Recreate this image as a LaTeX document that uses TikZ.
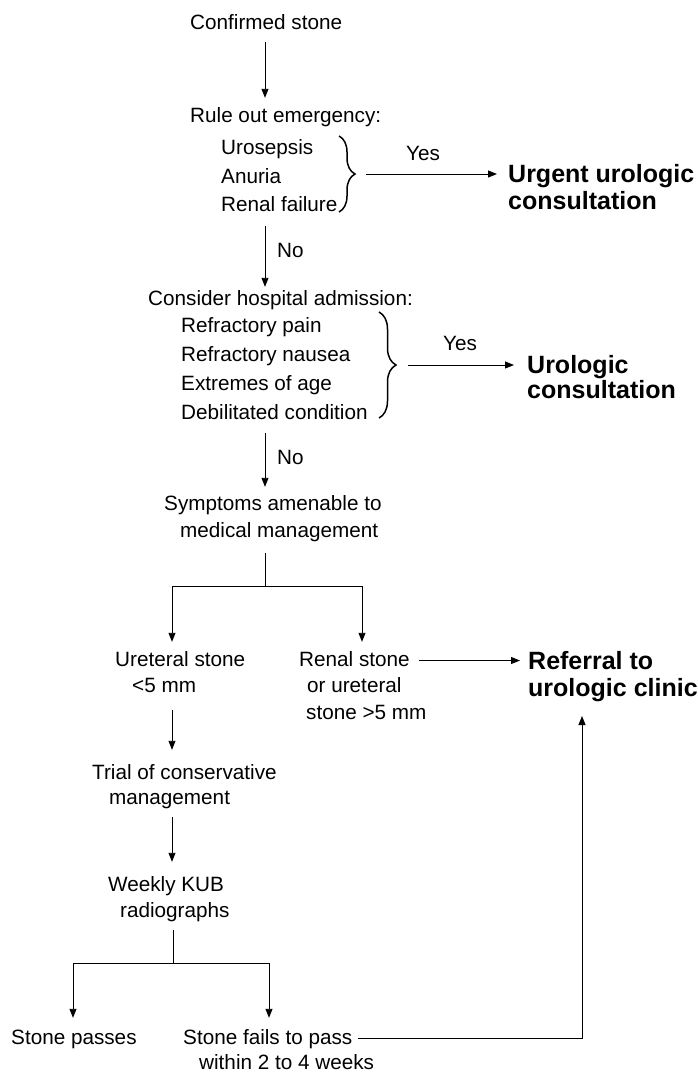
\documentclass[tikz,border=0pt]{standalone}
\usepackage{fontspec}
\setmainfont{Liberation Sans}
\usetikzlibrary{arrows.meta,decorations.pathreplacing}
\begin{document}
\begin{tikzpicture}[x=1pt,y=-1pt,
  txt/.style={font=\fontsize{20.7}{24}\selectfont, inner sep=0pt, text height=15pt, text depth=4pt, anchor=base west},
  btxt/.style={font=\fontsize{25}{28}\selectfont\bfseries, inner sep=0pt, text height=18pt, text depth=5pt, anchor=base west},
  lbl/.style={txt, anchor=base},
  conn/.style={line width=0.9pt},
  arr/.style={conn, -{Triangle[length=9pt,width=7pt]}},
  bracestyle/.style={line width=1.5pt, decorate, decoration={brace, amplitude=#1}},
]
\useasboundingbox (0,0) rectangle (697,1072);
\coordinate (spine) at (265,0);
% block 1
\node[txt] (cs) at (190,29) {Confirmed stone};
\node[txt] (re) at (190,122) {Rule out emergency:};
\node[txt] (u1) at (221,154) {Urosepsis};
\node[txt] (u2) at (221,183) {Anuria};
\node[txt] (u3) at (221,211) {Renal failure};
\draw[bracestyle=16pt] (339,136) -- (339,212);
\coordinate (b1) at (356,174);
\node[btxt] (ur1) at (508,182) {Urgent urologic};
\node[btxt] (ur2) at (508,209) {consultation};
\node[lbl] (y1) at (423,160) {Yes};
\draw[arr, shorten <=9pt, shorten >=9pt] (cs.south -| spine) -- (re.north -| spine);
\draw[arr, shorten <=10pt, shorten >=11pt] (b1) -- (b1 -| ur1.west);
% block 2
\node[txt] (no1) at (277,257) {No};
\node[txt] (ch) at (148,305) {Consider hospital admission:};
\node[txt] (r1) at (181,332) {Refractory pain};
\node[txt] (r2) at (181,361) {Refractory nausea};
\node[txt] (r3) at (181,390) {Extremes of age};
\node[txt] (r4) at (181,419) {Debilitated condition};
\draw[arr, shorten <=11pt, shorten >=3pt] (u3.south -| spine) -- (ch.north -| spine);
\draw[bracestyle=17pt] (379,312) -- (379,418);
\coordinate (b2) at (396,365);
\node[btxt] (uc1) at (527,373) {Urologic};
\node[btxt] (uc2) at (527,398) {consultation};
\node[lbl] (y2) at (460,350) {Yes};
\draw[arr, shorten <=12pt, shorten >=13pt] (b2) -- (b2 -| uc1.west);
% block 3
\node[txt] (no2) at (277,464) {No};
\node[txt] (sy1) at (164,510) {Symptoms amenable to};
\node[txt] (sy2) at (180,537) {medical management};
\draw[arr, shorten <=10pt, shorten >=8pt] (r4.south -| spine) -- (sy1.north -| spine);
\coordinate (j1) at (265,586);
\coordinate (jl) at (172,586);
\coordinate (jr) at (362,586);
\node[txt] (us1) at (115,666) {Ureteral stone};
\node[txt] (us2) at (132,692) {<5 mm};
\node[txt] (rs1) at (299,666) {Renal stone};
\node[txt] (rs2) at (307,692) {or ureteral};
\node[txt] (rs3) at (306,719) {stone >5 mm};
\node[btxt] (rf1) at (528,669) {Referral to};
\node[btxt] (rf2) at (528,696) {urologic clinic};
\draw[conn, shorten <=12pt] (sy2.south -| j1) -- (j1);
\draw[conn] (jl) -- (jr);
\draw[arr, shorten >=9pt] (jl) -- (jl |- us1.north);
\draw[arr, shorten >=9pt] (jr) -- (jr |- rs1.north);
\draw[arr, shorten <=9pt, shorten >=8pt] (rs1.east) -- (rs1.east -| rf1.west);
% block 4
\node[txt] (tr1) at (92,779) {Trial of conservative};
\node[txt] (tr2) at (109,804) {management};
\node[txt] (wk1) at (108,891) {Weekly KUB};
\node[txt] (wk2) at (120,917) {radiographs};
\draw[arr, shorten <=14pt, shorten >=14pt] (us2.south -| jl) -- (tr1.north -| jl);
\draw[arr, shorten <=9pt, shorten >=14pt] (tr2.south -| jl) -- (wk1.north -| jl);
\coordinate (j2) at (173,963);
\coordinate (kl) at (73,963);
\coordinate (kr) at (269,963);
\node[txt] (sp) at (11,1044) {Stone passes};
\node[txt] (sf1) at (183,1044) {Stone fails to pass};
\node[txt] (sf2) at (199,1069) {within 2 to 4 weeks};
\draw[conn, shorten <=9pt] (wk2.south -| j2) -- (j2);
\draw[conn] (kl) -- (kr);
\draw[arr, shorten >=11pt] (kl) -- (kl |- sp.north);
\draw[arr, shorten >=11pt] (kr) -- (kr |- sf1.north);
\coordinate (ret) at (582,716);
\draw[arr, shorten <=5pt] (sf1.east) -- (sf1.east -| ret) -- (ret);
\end{tikzpicture}
\end{document}
